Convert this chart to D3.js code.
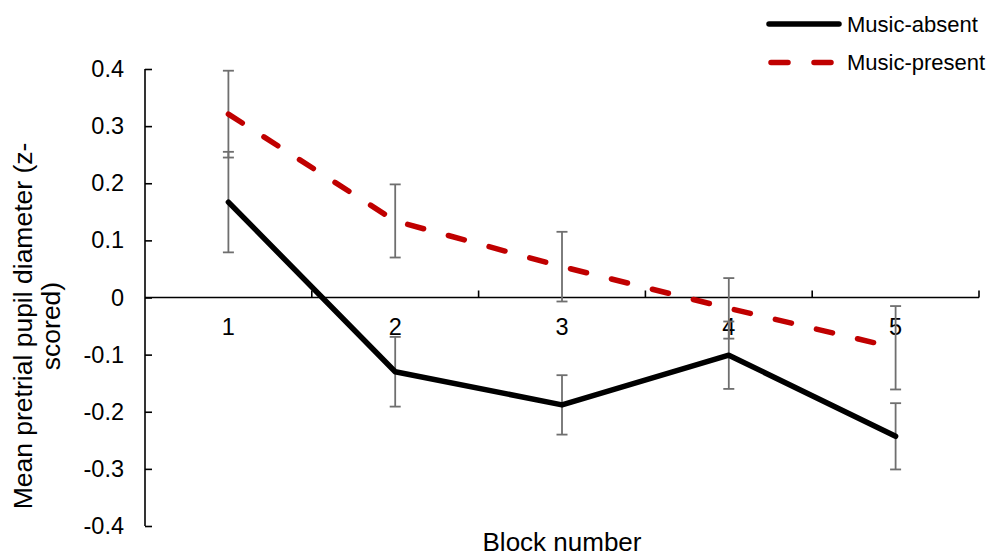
<!DOCTYPE html>
<html><head><meta charset="utf-8">
<script src="https://cdn.jsdelivr.net/npm/d3@7"></script>
<style>body{margin:0;background:#fff}svg{display:block}text{font-family:"Liberation Sans",Arial,sans-serif;fill:#000}</style>
</head><body><svg id="c" width="998" height="556"></svg>
<script>
const blocks = ["1","2","3","4","5"];
const absentMean = [0.167, -0.130, -0.188, -0.101, -0.243];
const absentErr  = [0.088, 0.061, 0.052, 0.059, 0.058];
const presentMean = [0.321, 0.134, 0.054, -0.019, -0.088];
const presentErr  = [0.076, 0.064, 0.061, 0.053, 0.073];
const yTicks = [0.4,0.3,0.2,0.1,0,-0.1,-0.2,-0.3,-0.4];
const seriesNames = ["Music-absent","Music-present"];

const svg = d3.select("#c");
const x = d3.scaleBand().domain(blocks).range([145,979]).padding(0);
const y = d3.scaleLinear().domain([-0.4,0.4]).range([526,69]);
const cx = d => x(d)+x.bandwidth()/2;

// y axis
const yAx = svg.append("g").attr("transform","translate(145,0)")
  .call(d3.axisLeft(y).tickValues(yTicks).tickSize(-7).tickPadding(21)
    .tickFormat(d=>d===0?"0":d3.format(".1f")(d).replace("\u2212","-")));
yAx.select(".domain").attr("stroke","#000").attr("stroke-width",1.6).attr("d","M0,69V526");
yAx.selectAll(".tick line").attr("stroke","#000").attr("stroke-width",1.6);
yAx.selectAll(".tick text").style("font-size","23.5px").attr("font-family",null);

// x axis at zero
const xAx = svg.append("g").attr("transform",`translate(0,${y(0)})`)
  .call(d3.axisBottom(x).tickSize(0).tickPadding(21));
xAx.select(".domain").attr("stroke","#000").attr("stroke-width",1.6).attr("d","M145,0H979");
xAx.selectAll(".tick text").style("font-size","23.5px").attr("font-family",null);
// boundary ticks between categories
const bounds = blocks.slice(1).map(b=>x(b)).concat([979]);
xAx.selectAll(".bt").data(bounds).join("line").attr("class","bt")
  .attr("x1",d=>d).attr("x2",d=>d).attr("y1",0).attr("y2",-7)
  .attr("stroke","#000").attr("stroke-width",1.6);

// error bars
function errBars(means, errs){
  const g = svg.append("g").attr("stroke","#6f6f6f").attr("stroke-width",1.8);
  blocks.forEach((b,i)=>{
    const X = cx(b), t = y(means[i]+errs[i]), bo = y(means[i]-errs[i]);
    g.append("line").attr("x1",X).attr("x2",X).attr("y1",t).attr("y2",bo);
    g.append("line").attr("x1",X-5.5).attr("x2",X+5.5).attr("y1",t).attr("y2",t);
    g.append("line").attr("x1",X-5.5).attr("x2",X+5.5).attr("y1",bo).attr("y2",bo);
  });
}
errBars(absentMean, absentErr);
errBars(presentMean, presentErr);

const line = d3.line().x((d,i)=>cx(blocks[i])).y(d=>y(d));
svg.append("path").datum(absentMean).attr("d",line).attr("fill","none")
  .attr("stroke","#000").attr("stroke-width",5.5).attr("stroke-linejoin","round").attr("stroke-linecap","round");
svg.append("path").datum(presentMean).attr("d",line).attr("fill","none")
  .attr("stroke","#c00000").attr("stroke-width",5.5).attr("stroke-dasharray","16.5,25.7").attr("stroke-linecap","round");

// axis titles
svg.append("text").attr("x",562).attr("y",551).attr("text-anchor","middle").style("font-size","26px").text("Block number");
const yt = svg.append("text").attr("transform","translate(32,326) rotate(-90)").attr("text-anchor","middle").style("font-size","26.5px");
yt.append("tspan").attr("x",0).attr("dy",0).text("Mean pretrial pupil diameter (z-");
yt.append("tspan").attr("x",0).attr("dy",28).text("scored)");

// legend
const lg = svg.append("g");
lg.append("line").attr("x1",769).attr("x2",839).attr("y1",24).attr("y2",24).attr("stroke","#000").attr("stroke-width",5.5).attr("stroke-linecap","round");
lg.append("line").attr("x1",771).attr("x2",832).attr("y1",62.5).attr("y2",62.5).attr("stroke","#c00000").attr("stroke-width",5.5).attr("stroke-dasharray","17,26").attr("stroke-linecap","round");
lg.selectAll("text.l").data(seriesNames).join("text").attr("class","l")
  .attr("x",847).attr("y",(d,i)=>24+i*38.5).attr("dy","0.35em").style("font-size","22px").text(d=>d);
</script></body></html>
